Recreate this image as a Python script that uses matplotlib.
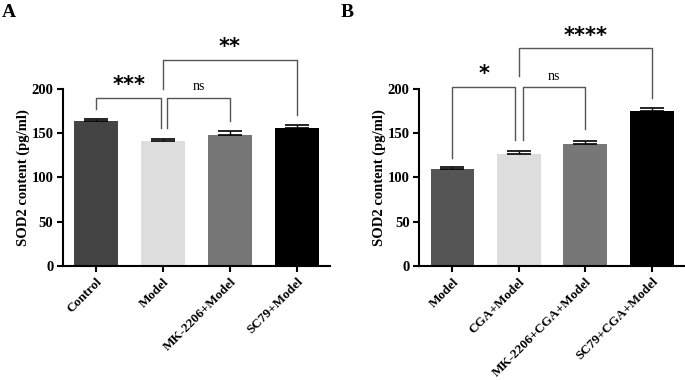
import matplotlib
matplotlib.use('Agg')
import matplotlib.pyplot as plt

plt.rcParams['font.family'] = ['Liberation Serif', 'DejaVu Serif']
plt.rcParams['font.weight'] = 'bold'

# panel A data
labels_a = ['Control', 'Model', 'MK-2206+Model', 'SC79+Model']
means_a = [163.5, 141.0, 148.5, 156.0]
errs_a = [2.0, 3.0, 3.5, 3.0]
colors_a = ['#444444', '#dddddd', '#777777', '#000000']

# panel B data
labels_b = ['Model', 'CGA+Model', 'MK-2206+CGA+Model', 'SC79+CGA+Model']
means_b = [109.5, 126.5, 138.0, 174.5]
errs_b = [2.0, 3.0, 3.5, 3.5]
colors_b = ['#555555', '#dddddd', '#777777', '#000000']

# significance brackets: (x1, x2, top, left leg end, right leg end, text)
sig_a = [(0, 0.97, 190, 177, 156, '***'),
         (1.06, 2, 190, 156, 164, 'ns'),
         (1, 3, 233, 200, 171, '**')]
sig_b = [(0, 0.94, 202, 122, 142, '*'),
         (1.06, 2, 202, 142, 155, 'ns'),
         (1, 3, 246, 215, 190, '****')]

fig = plt.figure(figsize=(6.85, 3.8), dpi=100)
ax_a = fig.add_axes([0.092, 0.30, 0.390, 0.466])
ax_b = fig.add_axes([0.612, 0.30, 0.388, 0.466])


def draw_panel(ax, labels, means, errs, colors, sigs):
    x = range(len(labels))
    ax.bar(x, means, width=0.66, color=colors, zorder=2)
    ax.errorbar(x, means, yerr=[[0] * len(errs), errs], fmt='none',
                ecolor='black', elinewidth=1, capsize=8.5, capthick=1.2, zorder=3)
    ax.set_xlim(-0.5, 3.5)
    ax.set_ylim(0, 200)
    ax.set_yticks([0, 50, 100, 150, 200])
    ax.set_xticks(list(x))
    ax.set_xticklabels(labels, rotation=45, ha='right', rotation_mode='anchor',
                       fontsize=9.5, fontweight='bold')
    for lab in ax.get_yticklabels():
        lab.set_fontsize(10.5)
        lab.set_fontweight('bold')
    ax.spines['top'].set_visible(False)
    ax.spines['right'].set_visible(False)
    ax.spines['left'].set_linewidth(1.5)
    ax.spines['bottom'].set_linewidth(1.5)
    ax.tick_params(axis='both', width=1.5, length=4, pad=3)
    ax.set_ylabel('SOD2 content (pg/ml)', fontsize=10.5, fontweight='bold', labelpad=1)
    for x1, x2, top, l1, l2, txt in sigs:
        ax.plot([x1, x1, x2, x2], [l1, top, top, l2], color='#555555', lw=1,
                clip_on=False, zorder=4)
        if txt == 'ns':
            ax.text((x1 + x2) / 2, top + 5, txt, ha='center', va='bottom',
                    fontsize=10, fontweight='normal')
        else:
            ax.text((x1 + x2) / 2, top + 3, txt, ha='center', va='bottom',
                    fontsize=15, fontweight='bold', family='DejaVu Sans')


draw_panel(ax_a, labels_a, means_a, errs_a, colors_a, sig_a)
draw_panel(ax_b, labels_b, means_b, errs_b, colors_b, sig_b)

fig.text(0.003, 0.99, 'A', fontsize=14, fontweight='bold', va='top', ha='left')
fig.text(0.498, 0.99, 'B', fontsize=14, fontweight='bold', va='top', ha='left')

fig.savefig('out.png', dpi=100)
